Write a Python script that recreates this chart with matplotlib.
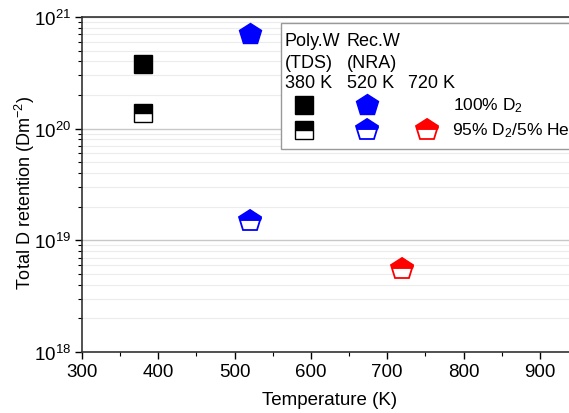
import matplotlib
matplotlib.use("Agg")
import matplotlib.pyplot as plt
from matplotlib.patches import Rectangle
from matplotlib.path import Path

plt.rcParams["font.family"] = ["Liberation Sans", "DejaVu Sans"]
plt.rcParams["font.size"] = 13.5
plt.rcParams["mathtext.fontset"] = "custom"
plt.rcParams["mathtext.rm"] = "Liberation Sans"
plt.rcParams["mathtext.it"] = "Liberation Sans:italic"
plt.rcParams["mathtext.bf"] = "Liberation Sans:bold"

# data
poly_temp = [380]
poly_d2 = [3.8e20]
poly_mix = [1.37e20]
rec_temp = [520]
rec_d2 = [7.0e20]
rec_mix = [1.5e19]
rec720_temp = [720]
rec720_mix = [5.5e18]

x_ticks = [300, 400, 500, 600, 700, 800, 900]

# upper cap of a pentagon, used for the half-filled pentagon symbol
CAP = Path([(0, 1), (-0.951, 0.309), (-0.883, 0.1), (0.883, 0.1), (0.951, 0.309), (0, 1)],
           [Path.MOVETO, Path.LINETO, Path.LINETO, Path.LINETO, Path.LINETO, Path.CLOSEPOLY])

SQ = 13.5
PENT = 16.5


def half_pentagon(ax, x, y, color, **kw):
    ax.plot(x, y, "p", markersize=PENT, markerfacecolor="white", markeredgecolor=color,
            markeredgewidth=1.3, **kw)
    ax.plot(x, y, marker=CAP, linestyle="none", markersize=PENT, markerfacecolor=color,
            markeredgecolor=color, markeredgewidth=0.8, **kw)


def half_square(ax, x, y, **kw):
    ax.plot(x, y, "s", color="black", markersize=SQ, fillstyle="top",
            markerfacecoloralt="white", markeredgewidth=1.0, **kw)


fig = plt.figure(figsize=(5.69, 4.14), dpi=100)
# axes spans just beyond the right edge, as in the cropped reference
ax = fig.add_axes([82 / 569, 61 / 414, 496 / 569, 335 / 414])

ax.set_yscale("log")
ax.set_ylim(1e18, 1e21)
ax.set_xlim(300, 950)
ax.set_xticks(x_ticks)
ax.set_xticks(range(350, 951, 100), minor=True)

ax.grid(True, which="major", axis="y", color="#c8c8c8", linewidth=1.0)
ax.grid(True, which="minor", axis="y", color="#ececec", linewidth=0.8)
ax.set_axisbelow(True)
ax.tick_params(which="both", direction="out", top=False, right=False)
ax.tick_params(which="major", length=5, width=1.0, labelsize=13.5, pad=3)
ax.tick_params(which="minor", length=3, width=0.8)
for s in ["left", "bottom", "top"]:
    ax.spines[s].set_color("#333333")
    ax.spines[s].set_linewidth(1.2)
ax.spines["right"].set_visible(False)

ax.plot(poly_temp, poly_d2, "s", color="black", markersize=SQ, markeredgewidth=1)
half_square(ax, poly_temp, poly_mix)
ax.plot(rec_temp, rec_d2, "p", color="blue", markersize=PENT, markeredgewidth=1)
half_pentagon(ax, rec_temp, rec_mix, "blue")
half_pentagon(ax, rec720_temp, rec720_mix, "red")

ax.set_xlabel("Temperature (K)", fontsize=13.5, labelpad=8)
ax.set_ylabel("Total D retention (Dm$^{-2}$)", fontsize=13, labelpad=-2, y=0.479)

# custom legend box, in pixel-derived axes fractions
T = ax.transAxes
px = lambda p: (p - 82) / 496
py = lambda p: (353 - p) / 335
ax.add_patch(Rectangle((px(281), py(150)), 0.7, py(24) - py(150), transform=T,
                       facecolor="white", edgecolor="#999999", linewidth=1.0,
                       zorder=5, clip_on=False))
cols = [px(285), px(347), px(408)]
heads = [["Poly.W", "(TDS)", "380 K"], ["Rec.W", "(NRA)", "520 K"], ["", "", "720 K"]]
rows_y = [py(42), py(63), py(83)]
for cx, lines in zip(cols, heads):
    for ry, txt in zip(rows_y, lines):
        if txt:
            ax.text(cx, ry, txt, transform=T, fontsize=13, va="center", ha="left", zorder=6)
leg = dict(transform=T, zorder=6, clip_on=False)
r1, r2 = py(106), py(131)
ax.plot(px(304), r1, "s", color="black", markersize=SQ, **leg)
ax.plot(px(367), r1, "p", color="blue", markersize=PENT, **leg)
half_square(ax, px(304), r2, **leg)
half_pentagon(ax, px(367), r2, "blue", **leg)
half_pentagon(ax, px(427), r2, "red", **leg)
ax.text(px(453), r1, "100% D$_2$", transform=T, fontsize=12.5, va="center", zorder=6)
ax.text(px(452), r2, "95% D$_2$/5% He", transform=T, fontsize=12.5, va="center", zorder=6)

fig.savefig("out.png", dpi=100)
